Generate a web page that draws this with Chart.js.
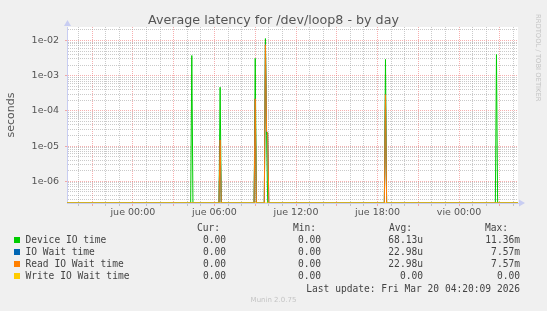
<!DOCTYPE html>
<html>
<head>
<meta charset="utf-8">
<script src="https://cdn.jsdelivr.net/npm/chart.js@4.4.1/dist/chart.umd.min.js"></script>
<style>
  html, body { margin: 0; padding: 0; background: #f0f0f0; }
  #wrap { position: relative; width: 547px; height: 311px; overflow: hidden; font-family: "DejaVu Sans", sans-serif; }
  #chart { position: absolute; left: 0; top: 0; }
  .t { position: absolute; white-space: pre; }
  #title { left: 0; width: 547px; top: 12px; text-align: center; font-size: 12.7px; color: #555; }
  #rrd { left: 534px; top: 14px; font-size: 6.8px; color: #c4c4c4; writing-mode: vertical-rl; }
  .leg { font-family: "DejaVu Sans Mono", monospace; font-size: 9.6px; line-height: 12px; color: #444; }
  .sq { position: absolute; width: 6px; height: 6px; }
  #munin { left: 0; width: 547px; text-align: center; font-size: 7px; color: #c4c4c4; top: 296px; }
</style>
</head>
<body>
<div id="wrap">
  <canvas id="chart" width="547" height="311"></canvas>
  <div id="title" class="t">Average latency for /dev/loop8 - by day</div>
  <div id="rrd" class="t">RRDTOOL / TOBI OETIKER</div>
  <div id="legend"></div>
  <div id="munin" class="t">Munin 2.0.75</div>
</div>
<script>
// time range of the graph
const xStart = 'mié 19:09';
const xEnd = 'vie 04:20';

// x axis labels
const xTickLabels = ['jue 00:00', 'jue 06:00', 'jue 12:00', 'jue 18:00', 'vie 00:00'];

// y axis (seconds, log)
const yMin = 2.42e-7;
const yMax = 0.0242;
const yTickValues = [1e-6, 1e-5, 1e-4, 1e-3, 1e-2];
const yTickLabels = ['1e-06', '1e-05', '1e-04', '1e-03', '1e-02'];

// series (5 min samples, 0 = nothing)
const deviceTimes = ['mié 19:09', 'jue 04:15', 'jue 04:20', 'jue 04:25', 'jue 06:20', 'jue 06:25', 'jue 06:30',
  'jue 08:55', 'jue 09:00', 'jue 09:05', 'jue 09:40', 'jue 09:45', 'jue 09:50', 'jue 09:55',
  'jue 18:30', 'jue 18:35', 'jue 18:40', 'vie 02:40', 'vie 02:45', 'vie 02:50', 'vie 04:20'];
const deviceValues = [0, 0, 3.75e-3, 0, 0, 4.7e-4, 0,
  0, 3.1e-3, 0, 0, 1.136e-2, 2.0e-5, 0,
  0, 2.9e-3, 0, 0, 4.0e-3, 0, 0];

const ioWaitTimes = ['mié 19:09', 'jue 06:20', 'jue 06:25', 'jue 06:30', 'jue 08:55', 'jue 09:00', 'jue 09:05',
  'jue 09:40', 'jue 09:45', 'jue 09:50', 'jue 09:55', 'jue 10:00', 'jue 18:30', 'jue 18:35', 'jue 18:40', 'vie 04:20'];
const ioWaitValues = [0, 0, 1.5e-5, 0, 0, 2.2e-4, 0,
  0, 7.57e-3, 2.6e-5, 2.4e-5, 0, 0, 2.9e-4, 0, 0];

const readTimes = ['mié 19:09', 'jue 06:20', 'jue 06:25', 'jue 06:30', 'jue 08:55', 'jue 09:00', 'jue 09:05',
  'jue 09:40', 'jue 09:45', 'jue 09:50', 'jue 09:55', 'jue 10:00', 'jue 18:30', 'jue 18:35', 'jue 18:40', 'vie 04:20'];
const readValues = [0, 0, 1.5e-5, 0, 0, 2.2e-4, 0,
  0, 7.57e-3, 2.6e-5, 2.4e-5, 0, 0, 2.9e-4, 0, 0];

const writeTimes = ['mié 19:09', 'vie 04:20'];
const writeValues = [0, 0];

// legend
const seriesNames = ['Device IO time', 'IO Wait time', 'Read IO Wait time', 'Write IO Wait time'];
const seriesColors = ['#00cc00', '#0066b3', '#ff8000', '#ffcc00'];
const curVals = ['0.00', '0.00', '0.00', '0.00'];
const minVals = ['0.00', '0.00', '0.00', '0.00'];
const avgVals = ['68.13u', '22.98u', '22.98u', '0.00'];
const maxVals = ['11.36m', '7.57m', '7.57m', '0.00'];
const lastUpdate = 'Last update: Fri Mar 20 04:20:09 2026';

const dayOffset = { 'mié': -24, 'jue': 0, 'vie': 24 };
function toHours(s) {
    const [d, hm] = s.split(' ');
    const [h, m] = hm.split(':').map(Number);
    return dayOffset[d] + h + m / 60;
}
function points(times, values) {
    return times.map((t, i) => ({ x: toHours(t), y: values[i] > 0 ? values[i] : yMin }));
}

const xTickHours = xTickLabels.map(toHours);
const isDecade = v => Math.abs(Math.log10(v) - Math.round(Math.log10(v))) < 1e-6;
const minorGrid = 'rgba(150,150,150,0.5)';
const majorGrid = 'rgba(240,110,110,0.55)';
const axisColor = '#c8cdf2';

const plotBg = {
    id: 'plotBg',
    beforeDraw(chart) {
        const a = chart.chartArea, ctx = chart.ctx;
        ctx.save();
        ctx.fillStyle = '#ffffff';
        ctx.fillRect(a.left, a.top, a.right - a.left, a.bottom - a.top);
        ctx.restore();
    },
    afterDraw(chart) {
        // axis arrows like rrdtool
        const a = chart.chartArea, ctx = chart.ctx;
        ctx.save();
        ctx.fillStyle = axisColor;
        ctx.beginPath();
        ctx.moveTo(a.left - 3, a.top - 1);
        ctx.lineTo(a.left + 0.5, a.top - 7);
        ctx.lineTo(a.left + 4, a.top - 1);
        ctx.fill();
        ctx.beginPath();
        ctx.moveTo(a.right + 1, a.bottom - 3.5);
        ctx.lineTo(a.right + 7, a.bottom);
        ctx.lineTo(a.right + 1, a.bottom + 3.5);
        ctx.fill();
        ctx.restore();
    }
};

const datasets = [
    { label: seriesNames[0], data: points(deviceTimes, deviceValues), borderColor: seriesColors[0], order: 3 },
    { label: seriesNames[1], data: points(ioWaitTimes, ioWaitValues), borderColor: seriesColors[1], order: 2 },
    { label: seriesNames[2], data: points(readTimes, readValues), borderColor: seriesColors[2], order: 1 },
    { label: seriesNames[3], data: points(writeTimes, writeValues), borderColor: seriesColors[3], order: 0 }
].map(d => Object.assign(d, { borderWidth: 1, pointRadius: 0, tension: 0, fill: false }));

Chart.defaults.font.family = '"DejaVu Sans", sans-serif';

new Chart(document.getElementById('chart').getContext('2d'), {
    type: 'line',
    data: { datasets: datasets },
    plugins: [plotBg],
    options: {
        responsive: false,
        animation: false,
        events: [],
        layout: { padding: { left: 0, right: 29, top: 27, bottom: 88 } },
        plugins: { legend: { display: false }, tooltip: { enabled: false } },
        scales: {
            x: {
                type: 'linear',
                min: toHours(xStart),
                max: toHours(xEnd),
                afterBuildTicks(scale) {
                    const ticks = [];
                    for (let h = Math.ceil(scale.min); h <= scale.max; h++) ticks.push({ value: h });
                    scale.ticks = ticks;
                },
                afterFit(scale) { scale.height = 20; },
                ticks: {
                    autoSkip: false,
                    maxRotation: 0,
                    padding: 1,
                    color: '#555',
                    font: { size: 9.5 },
                    callback: v => {
                        const i = xTickHours.indexOf(v);
                        return i >= 0 ? xTickLabels[i] : '';
                    }
                },
                grid: {
                    color: c => (c.tick && c.tick.value % 3 === 0) ? majorGrid : minorGrid,
                    tickColor: c => (c.tick && c.tick.value % 3 === 0) ? majorGrid : minorGrid,
                    tickLength: 3,
                    lineWidth: 1
                },
                border: { color: axisColor, width: 1, dash: [1, 1] }
            },
            y: {
                type: 'logarithmic',
                min: yMin,
                max: yMax,
                afterBuildTicks(scale) {
                    const ticks = [];
                    for (let e = -7; e <= -1; e++) {
                        for (let k = 1; k <= 9; k++) {
                            const v = k * Math.pow(10, e);
                            if (v > scale.min && v < scale.max) ticks.push({ value: v, major: k === 1 });
                        }
                    }
                    scale.ticks = ticks;
                },
                afterFit(scale) { scale.width = 67; },
                ticks: {
                    autoSkip: false,
                    padding: 6,
                    color: '#555',
                    font: { size: 9.5 },
                    callback: v => {
                        const i = yTickValues.findIndex(t => Math.abs(t - v) / t < 1e-6);
                        return i >= 0 ? yTickLabels[i] : '';
                    }
                },
                grid: {
                    color: c => (c.tick && isDecade(c.tick.value)) ? majorGrid : minorGrid,
                    tickColor: c => (c.tick && isDecade(c.tick.value)) ? majorGrid : 'rgba(0,0,0,0)',
                    tickLength: 2,
                    lineWidth: 1
                },
                border: { color: axisColor, width: 1, dash: [1, 1] },
                title: {
                    display: true,
                    text: 'seconds',
                    color: '#555',
                    font: { size: 11 },
                    padding: { top: 4.5, bottom: 0 }
                }
            }
        }
    }
});

// legend text below the graph
const leg = document.getElementById('legend');
function addText(txt, left, top, right) {
    const el = document.createElement('div');
    el.className = 't leg';
    el.textContent = txt;
    el.style.top = top + 'px';
    if (right !== undefined) {
        el.style.right = (547 - right) + 'px';
    } else {
        el.style.left = left + 'px';
    }
    leg.appendChild(el);
}
const colLeft = [197, 293, 389, 485];
const colRight = [226, 321, 423, 520];
['Cur:', 'Min:', 'Avg:', 'Max:'].forEach((h, i) => addText(h, colLeft[i], 222));
seriesNames.forEach((name, r) => {
    const top = 234 + r * 12.1;
    const sq = document.createElement('div');
    sq.className = 'sq';
    sq.style.left = '14px';
    sq.style.top = (top + 3) + 'px';
    sq.style.background = seriesColors[r];
    leg.appendChild(sq);
    addText(name, 25.5, top);
    [curVals, minVals, avgVals, maxVals].forEach((col, i) => addText(col[r], 0, top, colRight[i]));
});
addText(lastUpdate, 0, 282.6, 520);
</script>
</body>
</html>
